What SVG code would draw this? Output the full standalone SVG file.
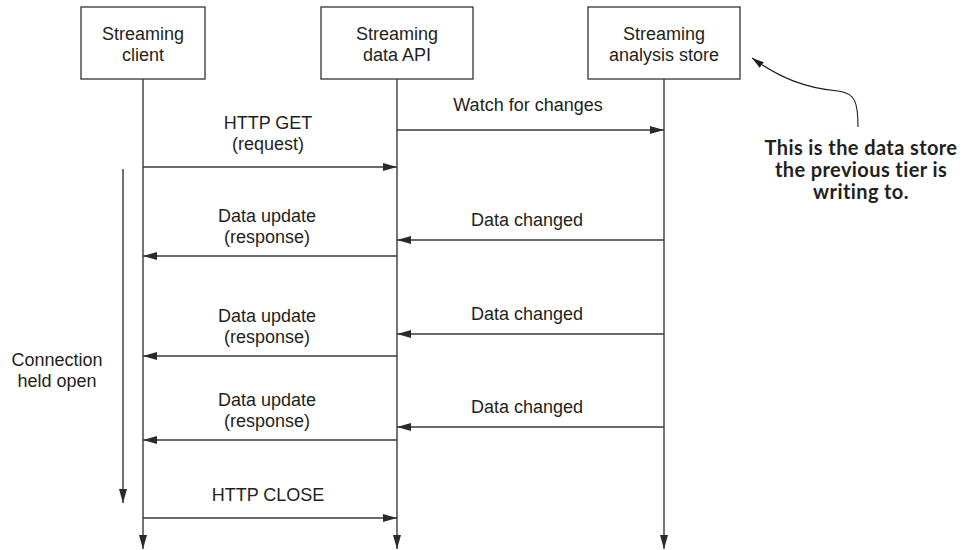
<svg xmlns="http://www.w3.org/2000/svg" width="964" height="550" viewBox="0 0 964 550">
  <style>
    .box { fill: #ffffff; stroke: #333333; stroke-width: 1.3; }
    .t { font-family: "Liberation Sans", Arial, sans-serif; font-size: 18px; fill: #231f20; text-anchor: middle; }
    .msg { stroke: #3a3a3a; stroke-width: 1.4; fill: none; marker-end: url(#ah); }
    .call { font-family: Lato, "Open Sans", sans-serif; font-weight: bold; font-size: 20px; letter-spacing: 0.4px; fill: #231f20; text-anchor: middle; }
  </style>
  <defs>
    <marker id="ah" viewBox="0 0 14 8" refX="14" refY="4" markerWidth="14" markerHeight="8" orient="auto" markerUnits="userSpaceOnUse">
      <path d="M0,0 L14,4 L0,8 z" fill="#2a2a2a"/>
    </marker>
    <marker id="ahs" viewBox="0 0 12 7" refX="12" refY="3.5" markerWidth="12" markerHeight="7" orient="auto" markerUnits="userSpaceOnUse">
      <path d="M0,0 L12,3.5 L0,7 z" fill="#1a1a1a"/>
    </marker>
  </defs>

  <rect width="964" height="550" fill="#ffffff"/>

  <g id="client">
    <rect class="box" x="81" y="7" width="124" height="72"/>
    <text class="t" x="143" y="40">Streaming</text>
    <text class="t" x="143" y="61">client</text>
  </g>
  <g id="api">
    <rect class="box" x="321" y="7" width="152" height="72"/>
    <text class="t" x="397" y="40">Streaming</text>
    <text class="t" x="397" y="61">data API</text>
  </g>
  <g id="store">
    <rect class="box" x="588" y="7" width="152" height="72"/>
    <text class="t" x="664" y="40">Streaming</text>
    <text class="t" x="664" y="61">analysis store</text>
  </g>
  <g id="note">
    <text class="call" x="861" y="155">This is the data store</text>
    <text class="call" x="861" y="177">the previous tier is</text>
    <text class="call" x="861" y="199">writing to.</text>
  </g>
  <g id="connection-label">
    <text class="t" x="57" y="366">Connection</text>
    <text class="t" x="57" y="387">held open</text>
  </g>

  <g id="connectors">
    <line class="msg" x1="143" y1="79" x2="143" y2="549"/>
    <line class="msg" x1="397" y1="79" x2="397" y2="549"/>
    <line class="msg" x1="664" y1="79" x2="664" y2="549"/>
    <line class="msg" x1="123" y1="169" x2="123" y2="503" style="stroke:#111;stroke-width:1.2"/>

    <line class="msg" x1="397" y1="130" x2="664" y2="130"/>
    <text class="t" x="528" y="111">Watch for changes</text>

    <line class="msg" x1="143" y1="167" x2="397" y2="167"/>
    <text class="t" x="268" y="129">HTTP GET</text>
    <text class="t" x="268" y="150">(request)</text>

    <line class="msg" x1="664" y1="240" x2="397" y2="240"/>
    <text class="t" x="527" y="226">Data changed</text>
    <line class="msg" x1="397" y1="256" x2="143" y2="256"/>
    <text class="t" x="267" y="222">Data update</text>
    <text class="t" x="267" y="243">(response)</text>

    <line class="msg" x1="664" y1="334" x2="397" y2="334"/>
    <text class="t" x="527" y="320">Data changed</text>
    <line class="msg" x1="397" y1="356" x2="143" y2="356"/>
    <text class="t" x="267" y="322">Data update</text>
    <text class="t" x="267" y="343">(response)</text>

    <line class="msg" x1="664" y1="427" x2="397" y2="427"/>
    <text class="t" x="527" y="413">Data changed</text>
    <line class="msg" x1="397" y1="440" x2="143" y2="440"/>
    <text class="t" x="267" y="406">Data update</text>
    <text class="t" x="267" y="427">(response)</text>

    <line class="msg" x1="143" y1="518" x2="397" y2="518"/>
    <text class="t" x="268" y="501">HTTP CLOSE</text>

    <path d="M858,127 C858,104 856,93 838,91 C805,88 780,78 752,58" fill="none" stroke="#1a1a1a" stroke-width="1.1" marker-end="url(#ahs)"/>
  </g>
</svg>
